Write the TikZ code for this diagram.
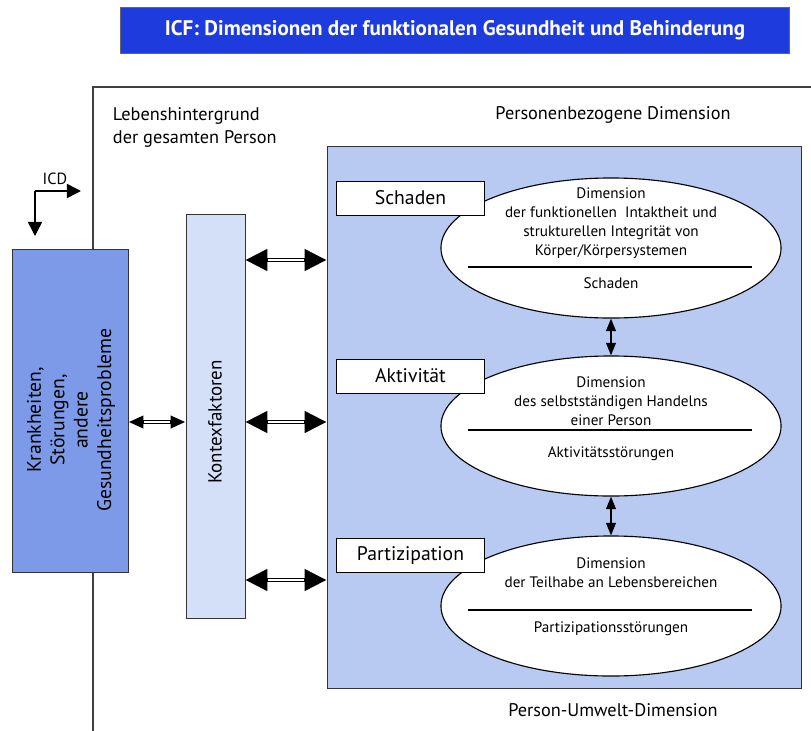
\documentclass[tikz,border=0pt]{standalone}
\usepackage{fontspec}
\setmainfont{PT Sans}
\usepackage{tikz}
\usetikzlibrary{arrows.meta,shapes.geometric}

\definecolor{titleblue}{RGB}{30,60,222}
\definecolor{krankblue}{RGB}{124,154,232}
\definecolor{kontexblue}{RGB}{212,224,248}
\definecolor{puwblue}{RGB}{184,202,242}

\tikzset{
  titlebar/.style={fill=titleblue,draw=black!60,line width=0.6pt,text=white,
    minimum width=16.7cm,minimum height=1.15cm,inner sep=0pt,
    font=\fontsize{15}{18}\selectfont\bfseries},
  bluebox/.style={draw=black!80,line width=0.6pt,inner sep=0pt},
  dimellipse/.style={ellipse,draw,fill=white,line width=0.8pt,
    minimum width=8.5cm,minimum height=3.5cm,inner sep=0pt},
  dimlabel/.style={draw,fill=white,line width=0.7pt,minimum width=3.675cm,
    minimum height=0.85cm,inner sep=0pt,font=\fontsize{14}{16}\selectfont},
  dimtext/.style={align=center,font=\fontsize{10.8}{13.5}\selectfont},
  plaintext/.style={font=\fontsize{13}{16.4}\selectfont},
  bigarrow/.style={{Triangle[length=15.6pt,width=15pt]}-{Triangle[length=15.6pt,width=15pt]},
    line width=3pt,postaction={draw,white,line width=1.2pt,arrows=-,
    shorten <=16pt,shorten >=16pt}},
  smallarrow/.style={{Triangle[length=10.7pt,width=8.5pt]}-{Triangle[length=10.7pt,width=8.5pt]},
    line width=3pt,postaction={draw,white,line width=1.2pt,arrows=-,
    shorten <=11pt,shorten >=11pt}},
  vertarrow/.style={{Triangle[length=9pt,width=7pt]}-{Triangle[length=9pt,width=7pt]},
    line width=1.2pt},
  icdarrow/.style={-{Triangle[length=10pt,width=10pt]},line width=1.1pt}
}

\begin{document}
\begin{tikzpicture}[x=0.025cm,y=-0.025cm]
  \useasboundingbox (0,0) rectangle (811,731);

  \node[titlebar] (title) at (455,30)
    {ICF: Dimensionen der funktionalen Gesundheit und Behinderung};

  \draw[black!75,line width=0.9pt] (93,731) -- (93,87) -- (811,87);

  \node[plaintext,anchor=west,align=left] (hintergrund) at (108,127)
    {Lebenshintergrund\\der gesamten Person};
  \node[plaintext] (personen) at (613,115) {Personenbezogene Dimension};
  \node[plaintext] (umwelt) at (613,710) {Person-Umwelt-Dimension};

  % ICD
  \node[font=\fontsize{11.5}{13}\selectfont] (icdtext) at (55,179) {ICD};
  \coordinate (icd) at (35,191);
  \coordinate (icdright) at (81,191);
  \coordinate (icddown) at (35,236);
  \draw[icdarrow] (icd) -- (icdright);
  \draw[icdarrow] (icd) -- (icddown);

  \node[bluebox,fill=krankblue,minimum width=2.9cm,minimum height=8.075cm]
    (krank) at (70,410.5) {};
  \node[rotate=90,align=center,font=\fontsize{14}{16.7}\selectfont] (krankt) at (71,420)
    {Krankheiten,\\Störungen,\\andere\\Gesundheitsprobleme};

  \node[bluebox,fill=kontexblue,minimum width=1.475cm,minimum height=10.1cm]
    (kontex) at (215.5,416) {};
  \node[rotate=90,font=\fontsize{13.5}{16}\selectfont] (kontext) at (215,422) {Kontexfaktoren};

  \node[bluebox,fill=puwblue,minimum width=11.85cm,minimum height=13.55cm]
    (puw) at (564,417) {};

  \node[dimellipse] (schaden) at (611,248) {};
  \node[dimellipse] (aktivitaet) at (611,426) {};
  \node[dimellipse] (partizipation) at (611,606) {};

  \node[dimtext] (schadenoben) at (611,223)
    {Dimension\\der funktionellen\ \ Intaktheit und\\strukturellen Integrität von\\Körper/Körpersystemen};
  \draw[line width=0.8pt] (468,267) -- (752,267);
  \node[dimtext] (schadenunten) at (611,283) {Schaden};

  \node[dimtext] (aktivoben) at (611,401.5)
    {Dimension\\des selbstständigen Handelns\\einer Person};
  \draw[line width=0.8pt] (468,430) -- (752,430);
  \node[dimtext] (aktivunten) at (611,454) {Aktivitätsstörungen};

  \node[dimtext] (partoben) at (611,572.5)
    {Dimension\\der Teilhabe an Lebensbereichen};
  \draw[line width=0.8pt] (468,610) -- (752,610);
  \node[dimtext] (partunten) at (611,629) {Partizipationsstörungen};

  \node[dimlabel] (schadenlabel) at (410.5,198) {Schaden};
  \node[dimlabel] (aktivlabel) at (410.5,376) {Aktivität};
  \node[dimlabel] (partlabel) at (410.5,555) {Partizipation};

  \draw[smallarrow] (krank.east |- 0,422) -- (kontex.west |- 0,422);
  \foreach \y in {260,422,580}
    \draw[bigarrow] (kontex.east |- 0,\y) -- (puw.west |- 0,\y);

  \draw[vertarrow] (schaden.south) -- (aktivitaet.north);
  \draw[vertarrow] (aktivitaet.south) -- (partizipation.north);

\end{tikzpicture}
\end{document}
